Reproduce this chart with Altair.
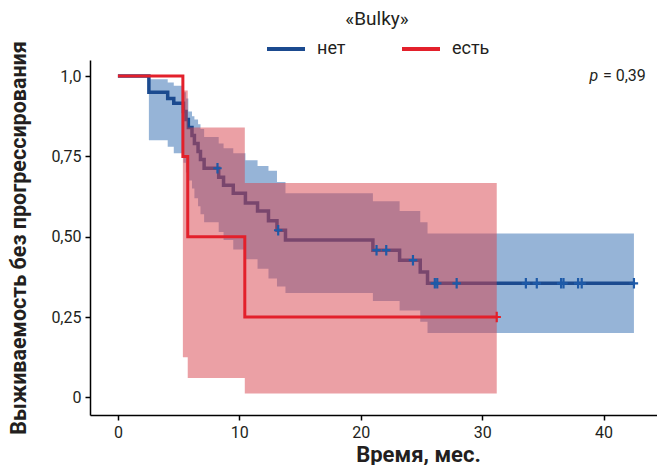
import altair as alt
import pandas as pd

# ---- data ----
# group "нет" (blue)
no_t = [0, 2.55, 4.1, 4.6, 5.4, 5.6, 5.8, 6.1, 6.3, 6.6, 6.8, 7.1, 8.3, 8.7, 9.5,
        10.5, 11.5, 12.4, 13.1, 13.8, 21.0, 23.2, 24.9, 25.5, 42.5]
no_s = [1.0, 0.95, 0.93, 0.915, 0.89, 0.865, 0.84, 0.815, 0.79, 0.765, 0.74, 0.713,
        0.685, 0.66, 0.635, 0.605, 0.58, 0.55, 0.52, 0.49, 0.458, 0.427, 0.39, 0.355, 0.355]
no_hi = [1.0, 0.99, 0.98, 0.97, 0.95, 0.93, 0.89, 0.875, 0.865, 0.85, 0.835, 0.81,
         0.79, 0.775, 0.76, 0.738, 0.72, 0.705, 0.67, 0.635, 0.61, 0.58, 0.545, 0.51, 0.51]
no_lo = [1.0, 0.80, 0.78, 0.76, 0.73, 0.70, 0.675, 0.65, 0.62, 0.595, 0.57, 0.545,
         0.515, 0.49, 0.46, 0.43, 0.40, 0.37, 0.345, 0.325, 0.30, 0.27, 0.235, 0.20, 0.20]
no_cens = [8.2, 13.2, 21.3, 22.1, 24.3, 26.1, 26.3, 27.9, 33.6, 34.5, 36.5, 36.7,
           37.9, 38.2, 42.5]

# group "есть" (red)
yes_t = [0, 5.35, 5.75, 10.45, 31.2]
yes_s = [1.0, 0.75, 0.5, 0.25, 0.25]
yes_hi = [1.0, 0.955, 0.84, 0.667, 0.667]
yes_lo = [1.0, 0.125, 0.06, 0.012, 0.012]
yes_cens = [31.2]

groups = ["нет", "есть"]
y_ticks = [0, 0.25, 0.5, 0.75, 1.0]
x_ticks = [0, 10, 20, 30, 40]

BLUE = "#1B4A8F"
RED = "#E3202B"
BAND_BLUE = "#2D69AF"
BAND_RED = "#D7414B"
TXT = "#231F20"
FONT = "Roboto"


def step_val(ts, ss, t):
    v = ss[0]
    for tt, s in zip(ts, ss):
        if tt <= t:
            v = s
    return v


df_no = pd.DataFrame({"t": no_t, "s": no_s, "hi": no_hi, "lo": no_lo, "g": groups[0]})
df_yes = pd.DataFrame({"t": yes_t, "s": yes_s, "hi": yes_hi, "lo": yes_lo, "g": groups[1]})
cens_no = pd.DataFrame({"t": no_cens, "s": [step_val(no_t, no_s, c) for c in no_cens]})
cens_yes = pd.DataFrame({"t": yes_cens, "s": [step_val(yes_t, yes_s, c) for c in yes_cens]})

xs = alt.Scale(domain=[-2.3, 44.4], nice=False, zero=False)
ys = alt.Scale(domain=[-0.055, 1.05], nice=False, zero=False)

x_axis = alt.Axis(values=x_ticks, title="Время, мес.", grid=False, labelFontSize=16,
                  titleFontSize=22, titleFontWeight="bold", tickSize=5, labelPadding=4,
                  titlePadding=4, titleX=328)
y_axis = alt.Axis(values=y_ticks, title="Выживаемость без прогрессирования", grid=False,
                  labelFontSize=16, titleFontSize=21.5, titleFontWeight="bold", tickSize=5,
                  labelPadding=4, titlePadding=20,
                  labelExpr="datum.value == 1 ? '1,0' : (datum.value == 0 ? '0' : replace(format(datum.value, '.2f'), '.', ','))")

X = alt.X("t:Q", scale=xs, axis=x_axis)
Y = alt.Y("s:Q", scale=ys, axis=y_axis)

color_scale = alt.Scale(domain=groups, range=[BLUE, RED])
legend = alt.Legend(title="«Bulky»", orient="none", legendX=175, legendY=-50,
                    direction="horizontal", titleAnchor="middle", symbolType="stroke",
                    symbolSize=1444, symbolStrokeWidth=4, labelFontSize=18,
                    titleFontSize=19, titleFontWeight="normal", columnPadding=48,
                    titlePadding=-1, labelOffset=10)

band_no = alt.Chart(df_no).mark_area(interpolate="step-after", color=BAND_BLUE, opacity=0.5).encode(
    x=X, y=alt.Y("lo:Q", scale=ys, axis=y_axis), y2="hi:Q")
line_no = alt.Chart(df_no).mark_line(interpolate="step-after", strokeWidth=3.5).encode(
    x=X, y=Y, color=alt.Color("g:N", scale=color_scale, legend=legend))
band_yes = alt.Chart(df_yes).mark_area(interpolate="step-after", color=BAND_RED, opacity=0.5).encode(
    x=X, y=alt.Y("lo:Q", scale=ys, axis=y_axis), y2="hi:Q")
line_yes = alt.Chart(df_yes).mark_line(interpolate="step-after", strokeWidth=3).encode(
    x=X, y=Y, color=alt.Color("g:N", scale=color_scale, legend=legend))

PLUS = "M0,-1L0,1M-0.8,0L0.8,0"
c_no = alt.Chart(cens_no).mark_point(shape=PLUS, filled=False, size=110, strokeWidth=2.2,
                                     color="#1E5AA8", opacity=1).encode(x=X, y=Y)
c_yes = alt.Chart(cens_yes).mark_point(shape=PLUS, filled=False, size=110, strokeWidth=2.2,
                                       color=RED, opacity=1).encode(x=X, y=Y)

p_df = pd.DataFrame({"t": [39.55], "s": [1.0]})
p_df2 = pd.DataFrame({"t": [39.95], "s": [1.0]})
p_txt = alt.Chart(p_df).mark_text(text="p", fontStyle="italic", align="right", baseline="middle",
                                  fontSize=16, color=TXT, font=FONT).encode(x=X, y=Y)
p_txt2 = alt.Chart(p_df2).mark_text(text="= 0,39", align="left", baseline="middle",
                                    fontSize=16, color=TXT, font=FONT).encode(x=X, y=Y)

chart = alt.layer(band_no, line_no, band_yes, line_yes, c_no, c_yes, p_txt, p_txt2).properties(
    width=567, height=355, padding={"top": 2, "left": 0, "right": 0, "bottom": 0}
).configure_view(stroke=None).configure_axis(
    domainColor="black", domainWidth=1.5, tickColor="black", tickWidth=1.5,
    labelColor=TXT, titleColor=TXT, labelFont=FONT, titleFont=FONT
).configure_legend(labelColor=TXT, titleColor=TXT, labelFont=FONT, titleFont=FONT)

chart.save("out.html", embed_options={"renderer": "svg", "actions": False})
